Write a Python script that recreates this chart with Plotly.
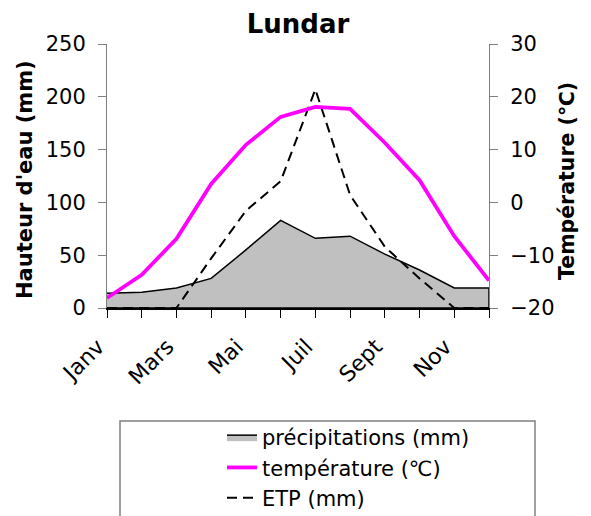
import plotly.graph_objects as go

months = ["Janv", "Févr", "Mars", "Avr", "Mai", "Juin", "Juil", "Août", "Sept", "Oct", "Nov", "Déc"]
tick_labels = ["Janv", "", "Mars", "", "Mai", "", "Juil", "", "Sept", "", "Nov", ""]
precip = [14, 15, 19, 28, 55, 83, 66, 68, 51, 36, 19, 19]
temperature = [-18.1, -13.7, -6.9, 3.5, 10.9, 16.2, 18.1, 17.7, 11.3, 4.2, -6.4, -14.8]
etp = [0, 0, 0, 47, 92, 120, 207, 107, 58, 28, 0, 0]

SANS = "DejaVu Sans, sans-serif"

W, H = 583, 508          # page body has an 8px margin
OFF = 8
PL, PR, PT, PB = 107, 489, 44, 308   # plot area in window pixels

def px_x(wx):
    return (wx - PL) / (PR - PL)

def px_y(wy):
    return (PB - wy) / (PB - PT)

fig = go.Figure()
fig.add_trace(go.Scatter(
    x=months + [months[-1], months[0]], y=precip + [0, 0],
    fill="toself", fillcolor="#C0C0C0", mode="lines",
    line=dict(color="black", width=1.5),
    name="précipitations (mm)", yaxis="y"))
fig.add_trace(go.Scatter(
    x=months, y=temperature, mode="lines",
    line=dict(color="#FF00FF", width=3.8),
    name="température (℃)", yaxis="y2"))
fig.add_trace(go.Scatter(
    x=months, y=etp, mode="lines",
    line=dict(color="black", width=2, dash="10px,6px"),
    name="ETP (mm)", yaxis="y"))

fig.update_layout(
    width=W, height=H,
    margin=dict(l=PL - OFF, r=W - (PR - OFF), t=PT - OFF, b=H - (PB - OFF),
                autoexpand=False),
    paper_bgcolor="white", plot_bgcolor="white",
    font=dict(family=SANS, color="black", size=21),
    title=dict(text="<b>Lundar</b>", x=(298 - OFF) / W, xanchor="center",
               y=1 - (24 - OFF) / H, yanchor="middle",
               font=dict(size=26, family=SANS)),
    xaxis=dict(type="category", categoryorder="array", categoryarray=months,
               range=[0, 11], tickmode="array", tickvals=months, ticktext=tick_labels,
               tickangle=-45, ticks="outside", ticklen=8, tickcolor="black",
               showline=True, linecolor="black", linewidth=2, showgrid=False,
               zeroline=False, tickfont=dict(size=22), automargin=False,
               ticklabelstandoff=7, ticklabelshift=-9),
    yaxis=dict(range=[0, 250], dtick=50, ticks="outside", ticklen=8,
               tickcolor="#808080", showline=True, linecolor="#808080", linewidth=1,
               showgrid=False, zeroline=False, tickfont=dict(size=21), automargin=False,
               ticklabelstandoff=8),
    yaxis2=dict(range=[-20, 30], dtick=10, overlaying="y", side="right",
                ticks="outside", ticklen=8, tickcolor="#808080", showline=True,
                linecolor="#808080", linewidth=1, showgrid=False, zeroline=False,
                tickfont=dict(size=21), automargin=False, ticklabelstandoff=8),
    annotations=[
        dict(text="<b>Hauteur d'eau (mm)</b>", textangle=-90, showarrow=False,
             xref="paper", yref="paper", x=px_x(25), y=px_y(180),
             xanchor="center", yanchor="middle", font=dict(size=21, family=SANS)),
        dict(text="<b>Température (℃)</b>", textangle=-90, showarrow=False,
             xref="paper", yref="paper", x=px_x(567), y=px_y(181),
             xanchor="center", yanchor="middle", font=dict(size=20.5, family=SANS)),
    ],
    showlegend=True,
    legend=dict(x=px_x(222), xanchor="left",
                y=px_y(417), yanchor="top",
                font=dict(size=21), bgcolor="rgba(0,0,0,0)", borderwidth=0,
                tracegroupgap=0),
    shapes=[dict(type="rect", xref="paper", yref="paper",
                 x0=px_x(120), x1=px_x(535), y0=px_y(421), y1=px_y(560),
                 line=dict(color="#808080", width=1.5), layer="below")],
)

fig.write_html("out.html")
